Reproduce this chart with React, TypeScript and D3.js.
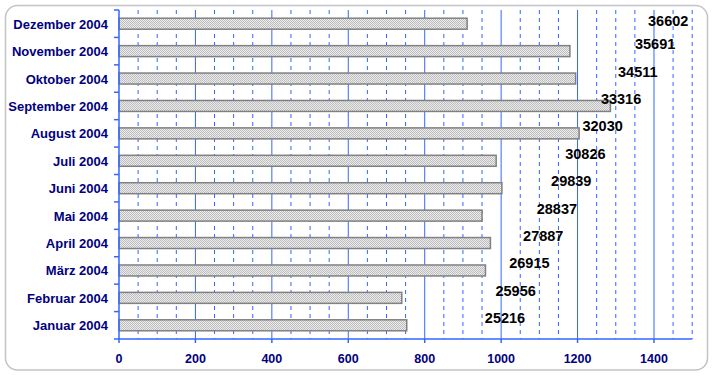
import React from "react";
import * as d3 from "d3";

const categories = [
  "Dezember 2004",
  "November 2004",
  "Oktober 2004",
  "September 2004",
  "August 2004",
  "Juli 2004",
  "Juni 2004",
  "Mai 2004",
  "April 2004",
  "März 2004",
  "Februar 2004",
  "Januar 2004",
];
const values = [911, 1180, 1195, 1286, 1204, 987, 1002, 950, 972, 959, 740, 753];
const totals = [36602, 35691, 34511, 33316, 32030, 30826, 29839, 28837, 27887, 26915, 25956, 25216];
const xTicks = [0, 200, 400, 600, 800, 1000, 1200, 1400];

const W = 714;
const H = 376;
const left = 119;
const right = 692.2;
const top = 10;
const bottom = 339;
const font = "'Liberation Sans', Arial, sans-serif";
const blue = "#3366ff";
const navy = "#000080";

export default function App() {
  const x = d3.scaleLinear().domain([0, 1500]).range([left, right]);
  const x2 = d3.scaleLinear().domain([0, 40000]).range([left, right]);
  const y = d3
    .scaleBand<string>()
    .domain(categories)
    .range([top, bottom])
    .paddingInner(0.6)
    .paddingOuter(0.3);
  const step = (bottom - top) / categories.length;
  const minor = d3.range(0, 1501, 50).filter((v) => v % 200 !== 0);
  const major = xTicks.filter((v) => v > 0);
  const boundaries = d3.range(0, categories.length + 1).map((k) => top + k * step);

  return (
    <svg
      width={W}
      height={H}
      style={{ position: "absolute", left: 0, top: 0, background: "#fff" }}
    >
      <defs>
        <pattern id="dots" width={2} height={2} patternUnits="userSpaceOnUse">
          <rect width={2} height={2} fill="#ececec" />
          <rect x={0} y={0} width={1} height={1} fill="#bdbdbd" />
          <rect x={1} y={1} width={1} height={1} fill="#bdbdbd" />
        </pattern>
      </defs>
      <rect
        x={5.5}
        y={5.5}
        width={702}
        height={364.5}
        rx={12}
        ry={12}
        fill="#fff"
        stroke="#c4c4c4"
        strokeWidth={1.5}
      />
      {minor.map((v) => (
        <line
          key={"m" + v}
          x1={x(v)}
          x2={x(v)}
          y1={top}
          y2={bottom}
          stroke={blue}
          strokeWidth={1}
          strokeDasharray="4,4"
        />
      ))}
      {major.map((v) => (
        <line key={"M" + v} x1={x(v)} x2={x(v)} y1={top} y2={bottom} stroke={blue} strokeWidth={1} />
      ))}
      {categories.map((c, i) => (
        <rect
          key={"b" + c}
          x={x(0)}
          y={y(c)!}
          width={x(values[i]) - x(0)}
          height={y.bandwidth()}
          fill="url(#dots)"
          stroke="#808080"
          strokeWidth={1.5}
        />
      ))}
      <line x1={left} x2={left} y1={top} y2={bottom} stroke={blue} strokeWidth={1.5} />
      <line x1={left} x2={right} y1={bottom} y2={bottom} stroke={blue} strokeWidth={1.5} />
      {boundaries.map((b, k) => (
        <line key={"t" + k} x1={left - 5} x2={left} y1={b} y2={b} stroke={blue} strokeWidth={1.5} />
      ))}
      {xTicks.map((v) => (
        <g key={"xt" + v}>
          <line x1={x(v)} x2={x(v)} y1={bottom} y2={bottom + 4} stroke={blue} strokeWidth={1.5} />
          <text
            x={x(v)}
            y={362.5}
            textAnchor="middle"
            fontFamily={font}
            fontWeight="bold"
            fontSize={12.5}
            fill={navy}
          >
            {v}
          </text>
        </g>
      ))}
      {categories.map((c) => (
        <text
          key={"c" + c}
          x={108}
          y={y(c)! + y.bandwidth() / 2 + 5}
          textAnchor="end"
          fontFamily={font}
          fontWeight="bold"
          fontSize={13}
          fill={navy}
        >
          {c}
        </text>
      ))}
      {categories.map((c, i) => {
        const cy = Math.max(y(c)! + y.bandwidth() / 2 - 7, top + 11);
        return (
          <text
            key={"v" + c}
            x={x2(totals[i]) + 4.5}
            y={cy + 5}
            fontFamily={font}
            fontWeight="bold"
            fontSize={14.5}
            fill="#000"
          >
            {totals[i]}
          </text>
        );
      })}
    </svg>
  );
}
